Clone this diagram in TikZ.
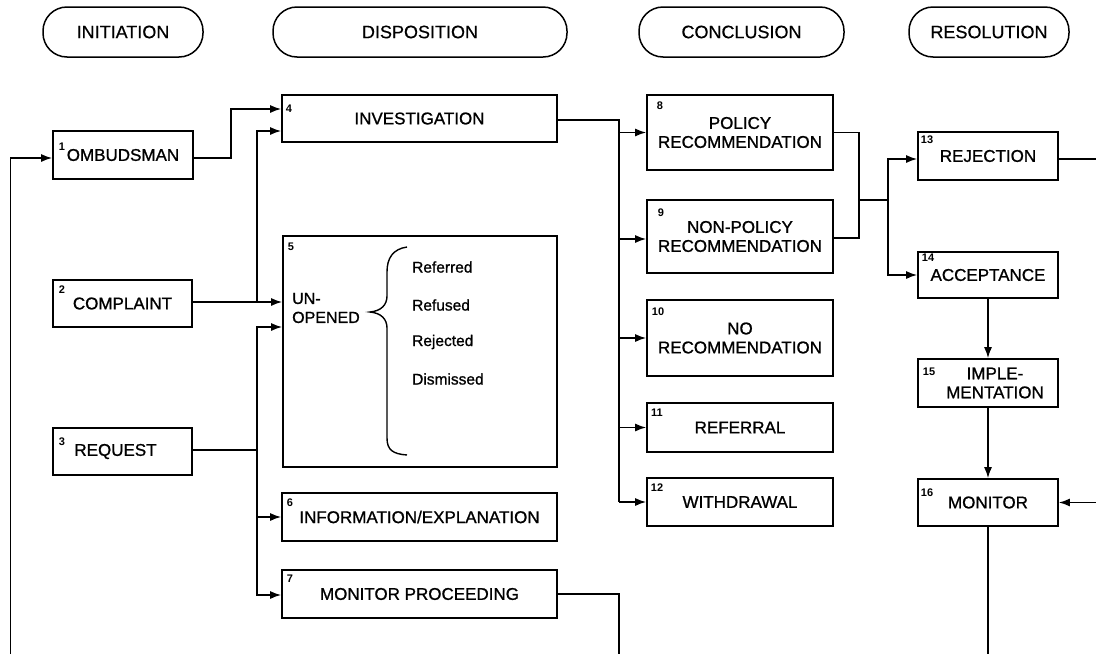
\documentclass[tikz,border=0pt]{standalone}
\usepackage{fontspec}
\setmainfont{Liberation Sans}
\newfontfamily\medfont{Liberation Sans}[FakeBold=1.0]
\newfontfamily\hdfont{Liberation Sans}[FakeBold=0.5]
\usetikzlibrary{arrows.meta,calc}
\begin{document}
\begin{tikzpicture}[x=1pt,y=-1pt,
  every node/.style={inner sep=0pt},
  txt/.style={font=\medfont\fontsize{17}{19}\selectfont},
  box/.style={draw, line width=1.6pt, rectangle, align=center, txt},
  pill/.style={draw, line width=1.5pt, rectangle, rounded corners=24pt, minimum height=50pt, font=\hdfont\fontsize{18}{20}\selectfont},
  num/.style={font=\bfseries\fontsize{11}{11}\selectfont},
  sub/.style={font=\medfont\fontsize{15.5}{17}\selectfont, anchor=west},
  conn/.style={line width=1.6pt},
  arr/.style={conn, -{Latex[length=11pt,width=8pt]}}
]
\useasboundingbox (0,0) rectangle (1096,654);

% headers
\node[pill, minimum width=160pt] (h1) at (123,32) {INITIATION};
\node[pill, minimum width=294pt] (h2) at (420,32) {DISPOSITION};
\node[pill, minimum width=205pt] (h3) at (741.5,32) {CONCLUSION};
\node[pill, minimum width=160pt] (h4) at (989,32) {RESOLUTION};

% initiation
\node[box, minimum width=140pt, minimum height=48pt] (n1) at (123,155) {OMBUDSMAN};
\node[box, minimum width=139pt, minimum height=47pt] (n2) at (122.5,303.5) {COMPLAINT};
\node[box, minimum width=139pt, minimum height=47pt] (n3) at (122.5,451.5) {\hspace*{-14pt}REQUEST};

% disposition
\node[box, minimum width=275pt, minimum height=47pt] (n4) at (419.5,118.5) {INVESTIGATION};
\node[box, minimum width=274pt, minimum height=231pt] (n5) at (420,351.5) {};
\node[box, minimum width=275pt, minimum height=48pt] (n6) at (419.5,517) {INFORMATION/EXPLANATION};
\node[box, minimum width=275pt, minimum height=48pt] (n7) at (419.5,594) {MONITOR PROCEEDING};

% contents of 5
\node[anchor=west, align=left, font=\medfont\fontsize{16}{19}\selectfont] (un) at (292,308) {UN-\\OPENED};
\node[sub] (s1) at (412,267) {Referred};
\node[sub] (s2) at (412,305) {Refused};
\node[sub] (s3) at (412,342) {Rejected};
\node[sub] (s4) at (412,379) {Dismissed};
\draw[line width=1.4pt] (407,247) .. controls (393,249) and (387,258) .. (387,272) -- (387,296)
  .. controls (387,305) and (381,311) .. (370,312)
  .. controls (381,313) and (387,319) .. (387,328) -- (387,438)
  .. controls (387,450) and (393,454) .. (407,455);

% conclusion
\node[box, minimum width=186pt, minimum height=75pt] (n8) at (740,132.5) {POLICY\\RECOMMENDATION};
\node[box, minimum width=186pt, minimum height=73pt] (n9) at (740,236.5) {NON-POLICY\\RECOMMENDATION};
\node[box, minimum width=186pt, minimum height=76pt] (n10) at (740,338) {NO\\RECOMMENDATION};
\node[box, minimum width=186pt, minimum height=49pt] (n11) at (740,427.5) {REFERRAL};
\node[box, minimum width=186pt, minimum height=48pt] (n12) at (740,502) {WITHDRAWAL};

% resolution
\node[box, minimum width=140pt, minimum height=48pt] (n13) at (988,156) {REJECTION};
\node[box, minimum width=140pt, minimum height=46pt] (n14) at (988,275) {ACCEPTANCE};
\node[box, minimum width=140pt, minimum height=48pt] (n15) at (988,383) {\hspace*{14pt}IMPLE-\\\hspace*{14pt}MENTATION};
\node[box, minimum width=140pt, minimum height=47pt] (n16) at (988,502.5) {MONITOR};

% numbers
\node[num] (l1) at (62,147) {1};
\node[num] (l2) at (62,290) {2};
\node[num] (l3) at (62,442) {3};
\node[num] (l4) at (289,109) {4};
\node[num] (l5) at (291,247) {5};
\node[num] (l6) at (290,503) {6};
\node[num] (l7) at (290,579) {7};
\node[num] (l8) at (660,106) {8};
\node[num] (l9) at (661,213) {9};
\node[num] (l10) at (658,312) {10};
\node[num] (l11) at (657,413) {11};
\node[num] (l12) at (657,488) {12};
\node[num] (l13) at (927,140) {13};
\node[num] (l14) at (928,258) {14};
\node[num] (l15) at (929,372) {15};
\node[num] (l16) at (927,493) {16};

% free ends and junctions
\coordinate (fbL) at (10.5,654);
\coordinate (fbM) at (619,654);
\coordinate (fbB) at (988,654);
\coordinate (fbR1) at (1096,159);
\coordinate (fbR2) at (1096,502.5);
\coordinate (j2) at (257,302);
\coordinate (j3) at (257,450);
\coordinate (j6) at (257,517);
\coordinate (v1) at (619,120);
\coordinate (jr) at (859,200);
\coordinate (jv) at (888,200);

% connectors
\draw[arr] (fbL) |- ($(n1.west)+(0,3)$);
\draw[arr] ($(n1.east)+(0,3)$) -- ++(37,0) |- ($(n4.west)+(0,-9.5)$);
\draw[arr] ($(n2.east)+(0,-1.5)$) -- ($(n5.west)+(0,-49.5)$);
\draw[arr] (j2) |- ($(n4.west)+(0,12.5)$);
\draw[conn] ($(n3.east)+(0,-1.5)$) -- (j3);
\draw[arr] (j3) |- ($(n5.west)+(0,-24.5)$);
\draw[arr] (j3) |- ($(n7.west)+(0,1)$);
\draw[arr] (j6) -- (n6.west);

\draw[conn] ($(n4.east)+(0,1.5)$) -- (v1) -- (n12.west -| v1);
\draw[arr] (n8.west -| v1) -- (n8.west);
\draw[arr] ($(n9.west -| v1)+(0,2.5)$) -- ($(n9.west)+(0,2.5)$);
\draw[arr] (n10.west -| v1) -- (n10.west);
\draw[arr] (n11.west -| v1) -- (n11.west);
\draw[arr] (n12.west -| v1) -- (n12.west);
\draw[conn] (n7.east) -| (fbM);

\draw[conn] (n8.east) -| (jr) |- ($(n9.east)+(0,1.5)$);
\draw[conn] (jr) -- (jv);
\draw[arr] (jv) |- ($(n13.west)+(0,3)$);
\draw[arr] (jv) |- (n14.west);
\draw[conn] ($(n13.east)+(0,3)$) -- (fbR1);
\draw[arr] (fbR2) -- (n16.east);
\draw[arr] (n14.south) -- (n15.north);
\draw[arr] (n15.south) -- (n16.north);
\draw[conn] (n16.south) -- (fbB);
\end{tikzpicture}
\end{document}
